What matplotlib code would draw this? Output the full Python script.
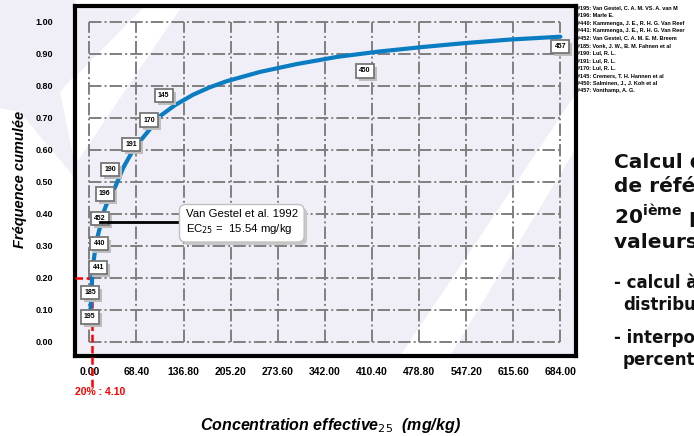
import matplotlib.pyplot as plt
import matplotlib.transforms as mtransforms
from matplotlib.patches import Polygon

plt.rcParams['font.family'] = ['Liberation Sans', 'DejaVu Sans']

# species points (label, concentration, cumulative frequency)
point_ids = ['195', '185', '441', '440', '452', '196', '190', '191', '170', '145', '450', '457']
point_x = [0.5, 1.0, 13.0, 14.5, 15.54, 22.5, 30.0, 61.0, 87.0, 108.0, 400.0, 684.0]
point_y = [1/13, 2/13, 3/13, 4/13, 5/13, 6/13, 7/13, 8/13, 9/13, 10/13, 11/13, 12/13]

# fitted curve
curve_x = [1.2, 2.2, 3.3, 4.1, 5.8, 8.0, 10.7, 15.5, 20.0, 25.3, 31.0, 37.3, 49.4, 60.0,
           71.2, 85.7, 102.7, 125.0, 151.0, 175.0, 199.5, 247.9, 300.0, 360.0, 422.0,
           485.0, 545.0, 610.0, 684.0]
curve_y = [0.07, 0.12, 0.17, 0.20, 0.244, 0.28, 0.317, 0.358, 0.40, 0.431, 0.46, 0.482,
           0.544, 0.585, 0.62, 0.658, 0.705, 0.74, 0.772, 0.795, 0.814, 0.843, 0.867,
           0.89, 0.907, 0.921, 0.933, 0.944, 0.953]

x_ticks = [0.0, 68.4, 136.8, 205.2, 273.6, 342.0, 410.4, 478.8, 547.2, 615.6, 684.0]
y_ticks = [0.0, 0.1, 0.2, 0.3, 0.4, 0.5, 0.6, 0.7, 0.8, 0.9, 1.0]

legend_lines = [
    '#195: Van Gestel, C. A. M. VS. A. van M',
    '#196: Marle E.',
    '#440: Kammenga, J. E., R. H. G. Van Reef',
    '#441: Kammenga, J. E., R. H. G. Van Reer',
    '#452: Van Gestel, C. A. M. E. M. Breem',
    '#185: Vonk, J. W., B. M. Fahnen et al',
    '#190: Lul, R. L.',
    '#191: Lul, R. L.',
    '#170: Lul, R. L.',
    '#145: Cremers, T. H. Hannen et al',
    '#450: Salminen, J., J. Koh et al',
    '#457: Vonthamp, A. G.',
]

ec_x = 15.54
ec_y = 0.373
p20_x = 4.10

fig = plt.figure(figsize=(6.94, 4.36), dpi=100)
W, H = 694, 436

# slide background shapes (pixel coords -> figure fraction)
def px(pts):
    return [(x / W, 1 - y / H) for x, y in pts]

lav = '#f0eff7'
fig.patches.append(Polygon(px([(0, 0), (75, 0), (75, 75), (60, 92), (75, 165), (75, 178),
                               (20, 112), (0, 108)]),
                           closed=True, fc=lav, ec='none', transform=fig.transFigure,
                           zorder=-1))

ax = fig.add_axes([75 / W, 80 / H, 501 / W, 350 / H])
ax.set_facecolor(lav)
ax.set_xlim(-20.8, 706.7)
ax.set_ylim(-0.045, 1.049)

# white diagonal bands inside plot
ax.add_patch(Polygon(px([(60, 92), (145, 6), (182, 6), (75, 165)]), closed=True,
                     fc='white', ec='none', transform=fig.transFigure, zorder=0.5))
ax.add_patch(Polygon(px([(575, 95), (575, 150), (450, 356), (400, 356)]), closed=True,
                     fc='white', ec='none', transform=fig.transFigure, zorder=0.5))

for s in ax.spines.values():
    s.set_linewidth(3)
    s.set_color('black')

# grid (only over data range)
for xv in x_ticks:
    ax.plot([xv, xv], [0, 1], color='#7f7f7f', lw=1.4, ls='-.', zorder=1)
for yv in y_ticks:
    ax.plot([0, 684], [yv, yv], color='#7f7f7f', lw=1.4, ls='-.', zorder=1)

ax.set_xticks(x_ticks)
ax.set_xticklabels(['%.2f' % v for v in x_ticks], fontsize=7.5, fontweight='bold')
ax.set_yticks(y_ticks)
ax.set_yticklabels(['%.2f' % v for v in y_ticks], fontsize=6.5, fontweight='bold')
ax.tick_params(length=0)
ax.tick_params(axis='x', pad=8)
ax.tick_params(axis='y', pad=16)

# red 20% lines
ax.plot([-20.8, p20_x], [0.2, 0.2], color='red', lw=1.8, ls=(0, (3, 1.5)), zorder=3)
ax.plot([p20_x, p20_x], [0.2, -0.15], color='red', lw=1.8, ls=(0, (3, 1.5)),
        zorder=3, clip_on=False)
ax.text(-20.8, -0.157, '20% : 4.10', color='red', fontsize=7.5, fontweight='bold',
        ha='left', va='center', clip_on=False)

# fitted curve
ax.plot(curve_x, curve_y, color='#0a7dc2', lw=3, zorder=4, solid_capstyle='round')

# point labels with shadow
shadow_tr = mtransforms.offset_copy(ax.transData, fig=fig, x=3, y=-3, units='dots')
for pid, xv, yv in zip(point_ids, point_x, point_y):
    ax.text(xv, yv, pid, transform=shadow_tr, fontsize=5, fontweight='bold',
            color='none', ha='center', va='center', zorder=5,
            bbox=dict(boxstyle='square,pad=0.45', fc='#bdbdbd', ec='none'))
    ax.text(xv, yv, pid, fontsize=5, fontweight='bold', color='black',
            ha='center', va='center', zorder=6,
            bbox=dict(boxstyle='square,pad=0.45', fc='white', ec='#777777', lw=1.3))

# EC annotation
ax.plot([ec_x, 128.8], [ec_y, ec_y], color='black', lw=2, zorder=7)
note = 'Van Gestel et al. 1992\nEC$_{25}$ =  15.54 mg/kg'
ax.text(140, ec_y, note, transform=shadow_tr, fontsize=8.2, color='none',
        ha='left', va='center', zorder=7, linespacing=1.3,
        bbox=dict(boxstyle='round,pad=0.55', fc='#c8c8c8', ec='none'))
ax.text(140, ec_y, note, fontsize=8.2, color='black', ha='left', va='center',
        zorder=8, linespacing=1.3,
        bbox=dict(boxstyle='round,pad=0.55', fc='white', ec='#c0c0c0', lw=1))

ax.set_ylabel('Fréquence cumulée', fontsize=10.5, fontweight='bold', style='italic')
ax.yaxis.set_label_coords(-0.095, 0.505)
fig.text(330 / W, 1 - 425 / H, 'Concentration effective$_{25}$  (mg/kg)', fontsize=11.5,
         fontweight='bold', style='italic', ha='center', va='center')

# source legend top right
for i, line in enumerate(legend_lines):
    fig.text(577 / W, 1 - (8 + i * 7.5) / H, line, fontsize=4, fontweight='bold',
             ha='left', va='center')

# slide text on right
rt = dict(fontweight='bold', ha='left', va='baseline', color='#111111',
          family=['DejaVu Sans'])
fig.text(614 / W, 1 - 168 / H, 'Calcul de la valeur', fontsize=14.5, **rt)
fig.text(614 / W, 1 - 192 / H, 'de référence', fontsize=14.5, **rt)
fig.text(614 / W, 1 - 224 / H, '20$^{\\mathregular{ième}}$ percentile des', fontsize=14.5, **rt)
fig.text(614 / W, 1 - 248 / H, 'valeurs de CE', fontsize=14.5, **rt)
fig.text(614 / W, 1 - 288 / H, '- calcul à partir de la', fontsize=12, **rt)
fig.text(623 / W, 1 - 310 / H, 'distribution', fontsize=12, **rt)
fig.text(614 / W, 1 - 343 / H, '- interpolation du', fontsize=12, **rt)
fig.text(623 / W, 1 - 365 / H, 'percentile', fontsize=12, **rt)

fig.savefig('out.png', dpi=100)
